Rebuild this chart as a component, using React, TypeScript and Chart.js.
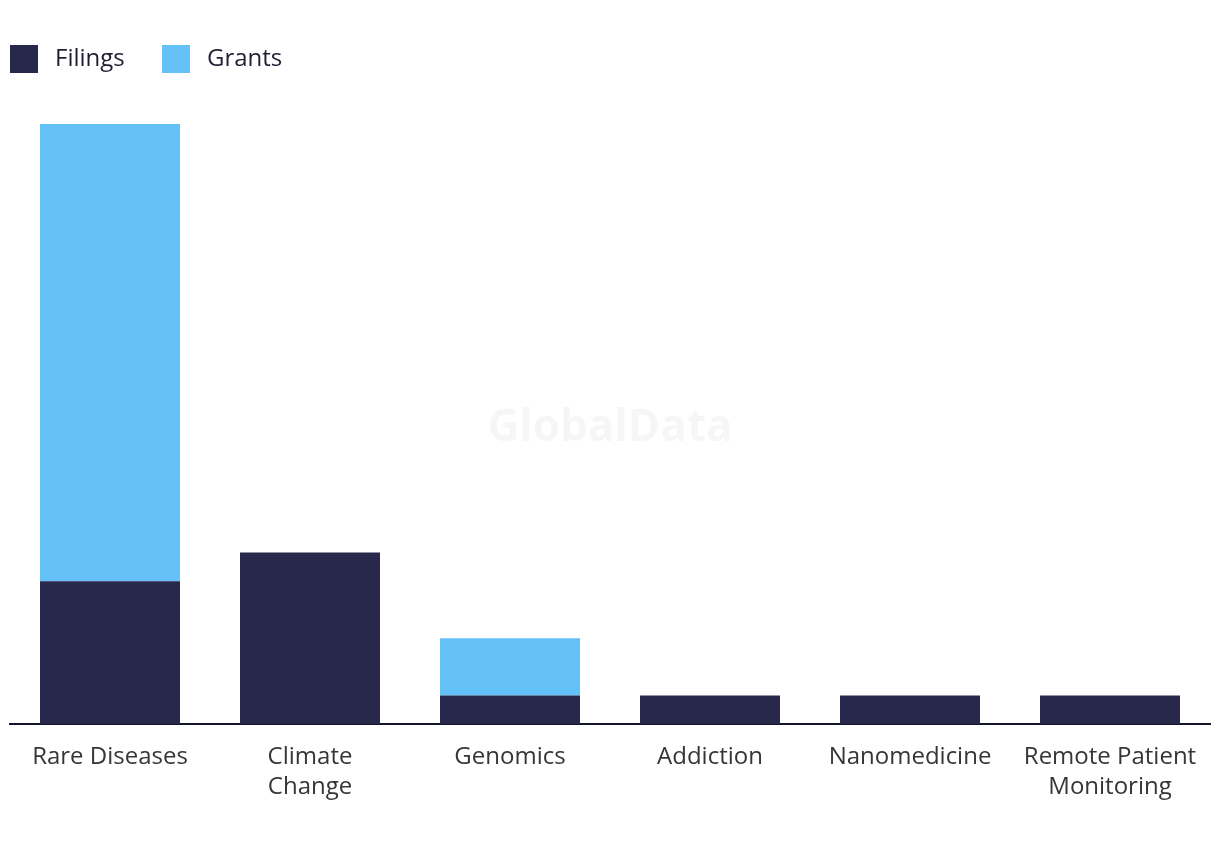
import React, { useEffect, useRef } from "react";
import { Chart, registerables } from "chart.js";

Chart.register(...registerables);

const categories: (string | string[])[] = [
  "Rare Diseases",
  ["Climate", "Change"],
  "Genomics",
  "Addiction",
  "Nanomedicine",
  ["Remote Patient", "Monitoring"],
];
const filings = [5, 6, 1, 1, 1, 1];
const grants = [16, 0, 2, 0, 0, 0];
const seriesNames = ["Filings", "Grants"];
const seriesColors = ["#28284c", "#63c1f8"];
const legendX = [10, 162];

const watermark = {
  id: "watermark",
  beforeDatasetsDraw(chart: any) {
    const ctx = chart.ctx;
    ctx.save();
    ctx.font = "bold 44px 'Open Sans', sans-serif";
    ctx.fillStyle = "rgba(0,0,0,0.035)";
    ctx.textAlign = "center";
    ctx.textBaseline = "middle";
    ctx.fillText("GlobalData", chart.width / 2, chart.height / 2 + 3);
    ctx.restore();
  },
};

const customLegend = {
  id: "customLegend",
  afterDraw(chart: any) {
    const ctx = chart.ctx;
    ctx.save();
    ctx.font = "24px 'Open Sans', sans-serif";
    ctx.textBaseline = "middle";
    ctx.textAlign = "left";
    chart.data.datasets.forEach((ds: any, i: number) => {
      const x = legendX[i];
      ctx.fillStyle = ds.backgroundColor;
      ctx.fillRect(x, 45, 28, 28);
      ctx.fillStyle = "#1f1f33";
      ctx.fillText(ds.label, x + 45, 59);
    });
    ctx.restore();
  },
};

export default function App() {
  const ref = useRef<HTMLCanvasElement>(null);
  useEffect(() => {
    document.body.style.margin = "0";
    const chart = new Chart(ref.current!, {
      type: "bar",
      data: {
        labels: categories,
        datasets: [
          { label: seriesNames[0], data: filings, backgroundColor: seriesColors[0] },
          { label: seriesNames[1], data: grants, backgroundColor: seriesColors[1] },
        ],
      },
      plugins: [watermark, customLegend],
      options: {
        animation: false,
        responsive: false,
        layout: { padding: { left: 10, right: 10, top: 84, bottom: 38 } },
        datasets: { bar: { categoryPercentage: 1, barPercentage: 0.7 } },
        plugins: {
          tooltip: { enabled: false },
          legend: { display: false },
        },
        scales: {
          x: {
            stacked: true,
            grid: { display: false },
            border: { display: true, color: "#14142a", width: 2 },
            ticks: {
              color: "#363636",
              padding: 10,
              maxRotation: 0,
              autoSkip: false,
              font: { family: "'Open Sans', sans-serif", size: 24, lineHeight: 1.25 },
            },
          },
          y: {
            stacked: true,
            display: false,
            min: 0,
            max: 22.4,
          },
        },
      },
    });
    return () => chart.destroy();
  }, []);
  return <canvas ref={ref} width={1220} height={850} style={{ display: "block" }} />;
}
